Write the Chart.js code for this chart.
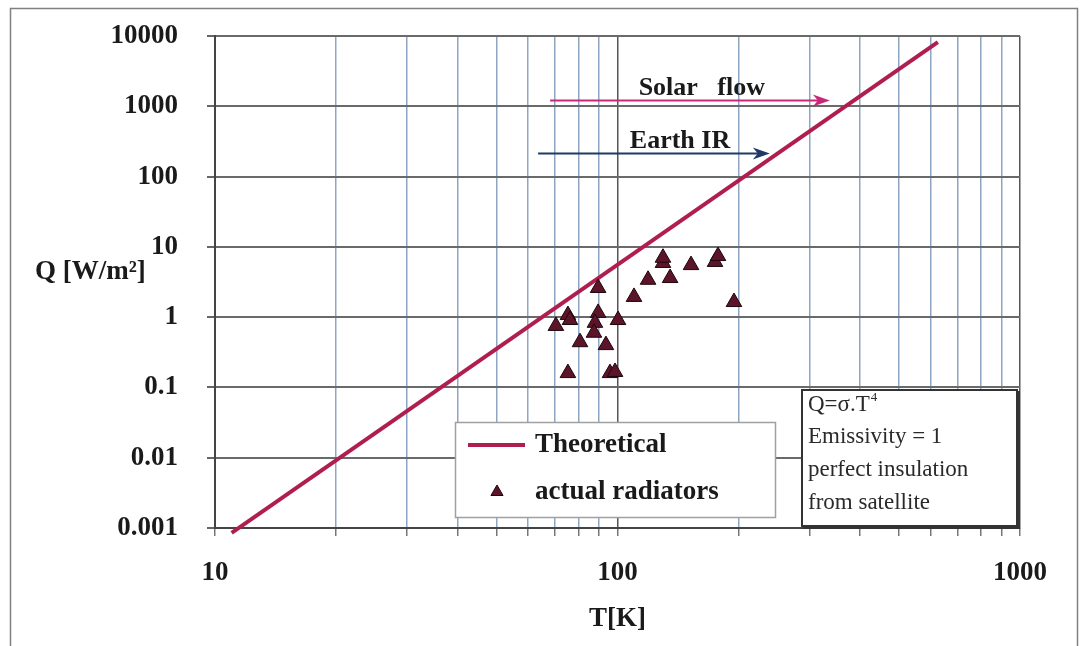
<!DOCTYPE html>
<html>
<head>
<meta charset="utf-8">
<title>Q vs T</title>
<script src="https://cdn.jsdelivr.net/npm/chart.js@4.4.1/dist/chart.umd.min.js"></script>
<style>
  html, body { margin: 0; padding: 0; background: #fff; }
  canvas { display: block; }
</style>
</head>
<body>
<canvas id="myChart" width="1085" height="646"></canvas>
<script>
// theoretical curve (Q = sigma.T^4), ends
const theoryT = [11, 625];
const theoryQ = [0.00085, 8200];

// actual radiators
const radT = [70.3, 75.3, 76.2, 80.7, 75.3, 89.5, 89.5, 87.9, 87.4, 93.6, 95.8, 98.6, 100.3, 109.9, 119.1, 129.7, 129.7, 135.1, 152.3, 174.7, 177.7, 194.7];
const radQ = [0.75, 1.07, 0.91, 0.44, 0.16, 2.6, 1.15, 0.83, 0.60, 0.40, 0.16, 0.166, 0.91, 1.94, 3.4, 5.9, 7.0, 3.6, 5.5, 6.1, 7.4, 1.64];

const xTickLabels = [10, 100, 1000];
const yTickLabels = [0.001, 0.01, 0.1, 1, 10, 100, 1000, 10000];

// annotation arrows (T from/to, Q level)
const solarT = [68, 337];
const solarQ = 1230;
const earthT = [63.5, 239];
const earthQ = 217;

const FONT = '"Liberation Serif", "Times New Roman", serif';
const LINE_COLOR = '#b01e50';
const TRI_FILL = '#5c1429';
const TRI_EDGE = '#1e060c';

// every 1..9 x decade gets a grid line
const xGrid = [];
[10, 100].forEach(d => { for (let k = 1; k < 10; k++) xGrid.push(d * k); });
xGrid.push(1000);

function drawArrow(ctx, x1, x2, y, color) {
  ctx.strokeStyle = color;
  ctx.fillStyle = color;
  ctx.lineWidth = 2;
  ctx.beginPath();
  ctx.moveTo(x1, y);
  ctx.lineTo(x2 - 6, y);
  ctx.stroke();
  ctx.beginPath();
  ctx.moveTo(x2, y);
  ctx.lineTo(x2 - 17, y - 6);
  ctx.lineTo(x2 - 12, y);
  ctx.lineTo(x2 - 17, y + 6);
  ctx.closePath();
  ctx.fill();
}

function drawTriangle(ctx, x, y, r) {
  ctx.fillStyle = TRI_FILL;
  ctx.strokeStyle = TRI_EDGE;
  ctx.lineWidth = 1;
  ctx.beginPath();
  ctx.moveTo(x, y - r);
  ctx.lineTo(x + r * 0.866, y + r * 0.5);
  ctx.lineTo(x - r * 0.866, y + r * 0.5);
  ctx.closePath();
  ctx.fill();
  ctx.stroke();
}

const decorations = {
  id: 'decorations',
  beforeDraw(chart) {
    const ctx = chart.ctx;
    ctx.save();
    ctx.fillStyle = '#fff';
    ctx.fillRect(0, 0, chart.width, chart.height);
    ctx.strokeStyle = '#808080';
    ctx.lineWidth = 1.5;
    ctx.strokeRect(10.5, 8.5, chart.width - 18, chart.height + 10);
    ctx.restore();
  },
  afterDatasetsDraw(chart) {
    const ctx = chart.ctx;
    const x = chart.scales.x, y = chart.scales.y;
    ctx.save();
    drawArrow(ctx, x.getPixelForValue(solarT[0]), x.getPixelForValue(solarT[1]), Math.round(y.getPixelForValue(solarQ)) + 0.5, '#c8287a');
    drawArrow(ctx, x.getPixelForValue(earthT[0]), x.getPixelForValue(earthT[1]), Math.round(y.getPixelForValue(earthQ)) + 0.5, '#1f3a66');
    ctx.font = 'bold 26px ' + FONT;
    ctx.fillStyle = '#1a1a1a';
    ctx.textAlign = 'center';
    ctx.textBaseline = 'middle';
    ctx.fillText('Solar   flow', x.getPixelForValue(162), y.getPixelForValue(1820));
    ctx.fillText('Earth IR', x.getPixelForValue(143), y.getPixelForValue(320));
    ctx.restore();
  },
  afterDraw(chart) {
    const ctx = chart.ctx;
    ctx.save();
    ctx.textBaseline = 'middle';
    ctx.textAlign = 'left';

    // y axis title, written horizontally
    ctx.font = 'bold 27px ' + FONT;
    ctx.fillStyle = '#1a1a1a';
    ctx.fillText('Q [W/m²]', 35, 272);

    // legend box
    ctx.fillStyle = '#fff';
    ctx.fillRect(455, 422, 320, 95);
    ctx.strokeStyle = '#a0a0a0';
    ctx.lineWidth = 1.5;
    ctx.strokeRect(455.5, 422.5, 320, 95);
    ctx.strokeStyle = LINE_COLOR;
    ctx.lineWidth = 4;
    ctx.beginPath();
    ctx.moveTo(468, 445);
    ctx.lineTo(525, 445);
    ctx.stroke();
    drawTriangle(ctx, 497, 492, 7);
    ctx.fillStyle = '#1a1a1a';
    ctx.font = 'bold 27px ' + FONT;
    ctx.fillText('Theoretical', 535, 445);
    ctx.fillText('actual radiators', 535, 492);

    // note box
    ctx.fillStyle = '#fff';
    ctx.fillRect(802, 390, 215, 136);
    ctx.strokeStyle = '#333';
    ctx.lineWidth = 2;
    ctx.strokeRect(802, 390, 215, 136);
    ctx.lineWidth = 3;
    ctx.beginPath();
    ctx.moveTo(1018.5, 391);
    ctx.lineTo(1018.5, 527.5);
    ctx.lineTo(803, 527.5);
    ctx.stroke();
    ctx.fillStyle = '#2a2a2a';
    ctx.font = '23px ' + FONT;
    ctx.fillText('Q=σ.T', 808, 405);
    const w = ctx.measureText('Q=σ.T').width;
    ctx.font = '13px ' + FONT;
    ctx.fillText('4', 808 + w + 1, 398);
    ctx.font = '23px ' + FONT;
    ctx.fillText('Emissivity = 1', 808, 437);
    ctx.fillText('perfect insulation', 808, 470);
    ctx.fillText('from satellite', 808, 503);
    ctx.restore();
  }
};

const ctx = document.getElementById('myChart');

new Chart(ctx, {
  type: 'scatter',
  data: {
    datasets: [
      {
        label: 'actual radiators',
        data: radT.map((t, i) => ({ x: t, y: radQ[i] })),
        pointStyle: 'triangle',
        pointRadius: 9,
        backgroundColor: TRI_FILL,
        borderColor: TRI_EDGE,
        borderWidth: 1,
        order: 0
      },
      {
        label: 'Theoretical',
        data: theoryT.map((t, i) => ({ x: t, y: theoryQ[i] })),
        showLine: true,
        pointRadius: 0,
        borderColor: LINE_COLOR,
        borderWidth: 4,
        clip: false,
        order: 1
      }
    ]
  },
  options: {
    responsive: false,
    animation: false,
    layout: { autoPadding: false, padding: { top: 36, right: 65, left: 0, bottom: 0 } },
    plugins: {
      legend: { display: false },
      tooltip: { enabled: false }
    },
    scales: {
      x: {
        type: 'logarithmic',
        min: 10,
        max: 1000,
        afterFit: (scale) => { scale.height = 118; scale.paddingLeft = 0; scale.paddingRight = 0; },
        afterBuildTicks: (scale) => { scale.ticks = xGrid.map(v => ({ value: v })); },
        grid: {
          color: (c) => (c.tick && xTickLabels.includes(c.tick.value)) ? '#555' : '#8fa6c2',
          lineWidth: 1.5,
          tickLength: 8,
          tickColor: '#777'
        },
        border: { color: '#444', width: 2 },
        ticks: {
          autoSkip: false,
          maxRotation: 0,
          padding: 21,
          color: '#1a1a1a',
          font: { family: FONT, size: 27, weight: 'bold' },
          callback: (v) => xTickLabels.includes(v) ? String(v) : ''
        },
        title: {
          display: true,
          text: 'T[K]',
          color: '#1a1a1a',
          font: { family: FONT, size: 27, weight: 'bold' },
          padding: { top: 0, bottom: 11 }
        }
      },
      y: {
        type: 'logarithmic',
        min: 0.001,
        max: 10000,
        afterFit: (scale) => { scale.width = 215; scale.paddingTop = 0; scale.paddingBottom = 0; },
        afterBuildTicks: (scale) => { scale.ticks = yTickLabels.map(v => ({ value: v })); },
        grid: {
          color: '#6a6a6a',
          lineWidth: 2,
          tickLength: 8,
          tickColor: '#666'
        },
        border: { color: '#444', width: 2 },
        ticks: {
          padding: 29,
          color: '#1a1a1a',
          font: { family: FONT, size: 27, weight: 'bold' },
          callback: (v) => String(v)
        }
      }
    }
  },
  plugins: [decorations]
});
</script>
</body>
</html>
